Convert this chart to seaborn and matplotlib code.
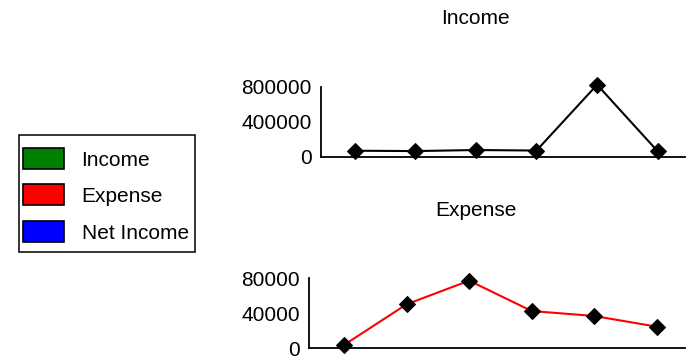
import matplotlib
matplotlib.use("Agg")
import matplotlib.pyplot as plt
from matplotlib.patches import Rectangle
import pandas as pd
import seaborn as sns

# Monthly figures (six periods)
periods = ["P1", "P2", "P3", "P4", "P5", "P6"]
income = [66000, 62000, 74000, 68000, 820000, 59000]
expense = [3800, 50300, 77300, 42600, 36900, 24700]

income_ticks = [0, 400000, 800000]
expense_ticks = [0, 40000, 80000]

legend_labels = ["Income", "Expense", "Net Income"]
legend_colors = ["#008000", "#ff0000", "#0000ff"]

sns.set_style("white")
plt.rcParams["font.family"] = ["Liberation Sans", "DejaVu Sans"]
plt.rcParams["font.size"] = 15
plt.rcParams["text.color"] = "black"
plt.rcParams["ytick.color"] = "black"

df = pd.DataFrame({"period": periods, "idx": range(len(periods)),
                   "Income": income, "Expense": expense})

fig = plt.figure(figsize=(6.92, 3.59), dpi=100)
W, H = 692, 359


def add_axes_px(left, top, right, bottom):
    return fig.add_axes([left / W, 1 - bottom / H, (right - left) / W, (bottom - top) / H])


ax_inc = add_axes_px(320.7, 86.5, 685, 156.5)
ax_exp = add_axes_px(309, 278.3, 685, 348.3)


def style_axis(ax, ticks, top):
    ax.set_xlim(-0.56, 5.45)
    ax.set_ylim(0, top)
    ax.set_yticks(ticks)
    ax.set_yticklabels([str(t) for t in ticks], fontsize=15, color="black")
    ax.set_xticks([])
    ax.tick_params(axis="y", length=0, pad=6.5)
    ax.set_xlabel("")
    ax.set_ylabel("")
    for side in ("top", "right"):
        ax.spines[side].set_visible(False)
    for side in ("left", "bottom"):
        ax.spines[side].set_color("black")
        ax.spines[side].set_linewidth(1.3)
    ax.patch.set_alpha(0)


sns.lineplot(data=df, x="idx", y="Income", ax=ax_inc, color="black", linewidth=1.5,
             marker="D", markersize=8, markerfacecolor="black", markeredgecolor="black",
             clip_on=False)
style_axis(ax_inc, income_ticks, 800000)

sns.lineplot(data=df, x="idx", y="Expense", ax=ax_exp, color="red", linewidth=1.5,
             marker="D", markersize=8, markerfacecolor="black", markeredgecolor="black",
             clip_on=False)
style_axis(ax_exp, expense_ticks, 80000)

fig.text(475.5 / W, 1 - 18.5 / H, "Income", ha="center", va="center", fontsize=15, color="black")
fig.text(475.5 / W, 1 - 210.5 / H, "Expense", ha="center", va="center", fontsize=15, color="black")

# Legend panel drawn in pixel coordinates
leg = fig.add_axes([0, 0, 1, 1])
leg.set_xlim(0, W)
leg.set_ylim(H, 0)
leg.axis("off")
leg.add_patch(Rectangle((18.5, 135), 176.5, 117, facecolor="white", edgecolor="black", linewidth=1.1))
row_tops = [147.5, 184, 220.5]
for top, label, color in zip(row_tops, legend_labels, legend_colors):
    leg.add_patch(Rectangle((23, top), 41, 21, facecolor=color, edgecolor="black", linewidth=1.2))
    leg.text(81.5, top + 11, label, ha="left", va="center_baseline", fontsize=15, color="black")

fig.savefig("out.png", dpi=100)
